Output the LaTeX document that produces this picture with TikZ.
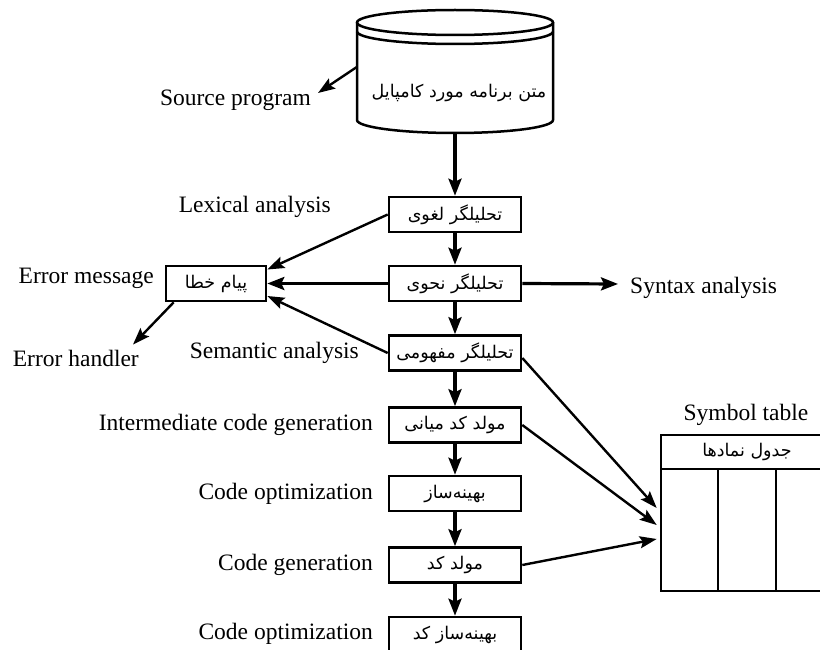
\documentclass[tikz,border=0pt]{standalone}
\usepackage{fontspec}
\setmainfont{Liberation Serif}
\newfontfamily\fa[Script=Arabic]{DejaVu Sans}
\TeXXeTstate=1
\usetikzlibrary{arrows.meta,calc}
\newcommand\fatext[1]{{\fa\beginR #1\endR}}

\begin{document}
\begin{tikzpicture}[x=1pt,y=-1pt,
  every node/.style={inner sep=0pt},
  stage/.style={draw, line width=2.6pt, minimum width=132pt, minimum height=35pt,
    font=\fontsize{17.5}{22}\selectfont},
  fatxt/.style={font=\fontsize{17.5}{22}\selectfont},
  lbl/.style={font=\fontsize{23.5}{28}\selectfont},
  flow/.style={line width=3.2pt, -{Stealth[length=17pt,width=13pt,inset=3pt]}},
  link/.style={line width=2.4pt, -{Stealth[length=17pt,width=12pt,inset=3pt]}},
  thin/.style={line width=2.5pt}
]
\useasboundingbox (0,0) rectangle (820,650);
\clip (0,0) rectangle (820,650);

% source program drum
\node[minimum width=196pt, minimum height=123pt] (src) at (455,71.5) {};
\draw[thin] (455,22.5) ellipse [x radius=98, y radius=12.5];
\draw[thin] (357,31.5) .. controls (357,38.4) and (400.9,44) .. (455,44)
                       .. controls (509.1,44) and (553,38.4) .. (553,31.5);
\draw[thin] (357,22.5) -- (357,120)
             .. controls (357,127.2) and (400.9,133) .. (455,133)
             .. controls (509.1,133) and (553,127.2) .. (553,120) -- (553,22.5);
\node[font=\fontsize{17.5}{21}\selectfont] (srclabel) at (459,93) {\fatext{متن برنامه مورد کامپایل}};

% compiler phases
\node[stage] (lex)  at (455,214.5) {\fatext{تحلیلگر لغوی}};
\node[stage] (syn)  at (455,283.5) {\fatext{تحلیلگر نحوی}};
\node[stage] (sem)  at (455,353)   {\fatext{تحلیلگر مفهومی}};
\node[stage] (icg)  at (455,425)   {\fatext{مولد کد میانی}};
\node[stage] (opt)  at (455,493.5) {\fatext{بهینه‌ساز}};
\node[stage] (gen)  at (455,565)   {\fatext{مولد کد}};
\node[stage] (copt) at (455,634.5) {\fatext{بهینه‌ساز کد}};

% error message box
\node[stage, minimum width=100pt] (err) at (216,283.5) {\fatext{پیام خطا}};

% symbol table
\node[draw, line width=2.6pt, minimum width=239pt, minimum height=156pt] (symtab) at (780.5,513) {};
\draw[thin] (661,469) -- (820,469);
\draw[thin] (718,469) -- (718,591);
\draw[thin] (776,469) -- (776,591);
\node[fatxt] (symhead) at (747,452) {\fatext{جدول نمادها}};

% English labels
\node[lbl, anchor=east] (srcprog) at (311,100) {Source program};
\node[lbl, anchor=east] (lexl)    at (331,207) {Lexical analysis};
\node[lbl, anchor=east] (errmsg)  at (154,278) {Error message};
\node[lbl, anchor=east] (errh)    at (139,358) {Error handler};
\node[lbl, anchor=east] (seml)    at (359,353) {Semantic analysis};
\node[lbl, anchor=west] (synl)    at (630,288) {Syntax analysis};
\node[lbl, anchor=east] (icgl)    at (373,425) {Intermediate code generation};
\node[lbl, anchor=east] (optl)    at (373,494) {Code optimization};
\node[lbl, anchor=east] (genl)    at (373,565) {Code generation};
\node[lbl, anchor=east] (coptl)   at (373,634) {Code optimization};
\node[lbl] (syml) at (746,415) {Symbol table};

% main flow
\draw[flow] (src.south) -- (lex.north);
\draw[flow] (lex) -- (syn);
\draw[flow] (syn) -- (sem);
\draw[flow] (sem) -- (icg);
\draw[flow] (icg) -- (opt);
\draw[flow] (opt) -- (gen);
\draw[flow] (gen) -- (copt);

% side connectors
\draw[link] ($(src.west)+(0,-4.5)$) -- ($(srcprog.east)+(7,-7)$);
\draw[flow] (syn.east) -- ($(synl.west)+(-12,-4)$);
\draw[flow] (syn.west) -- (err.east);
\draw[link] (lex.west) -- ($(err.east)+(0,-14)$);
\draw[link] (sem.west) -- ($(err.east)+(0,12.5)$);
\draw[link] ($(err.south west)+(9,0)$) -- ($(errh.north east)+(-6,-5)$);

% references into the symbol table
\draw[link] ($(sem.east)+(0,5)$) -- ($(symtab.west)+(-3,-5)$);
\draw[link] (icg.east) -- ($(symtab.west)+(-3,12)$);
\draw[link] (gen.east) -- ($(symtab.west)+(-3,26)$);
\end{tikzpicture}
\end{document}
